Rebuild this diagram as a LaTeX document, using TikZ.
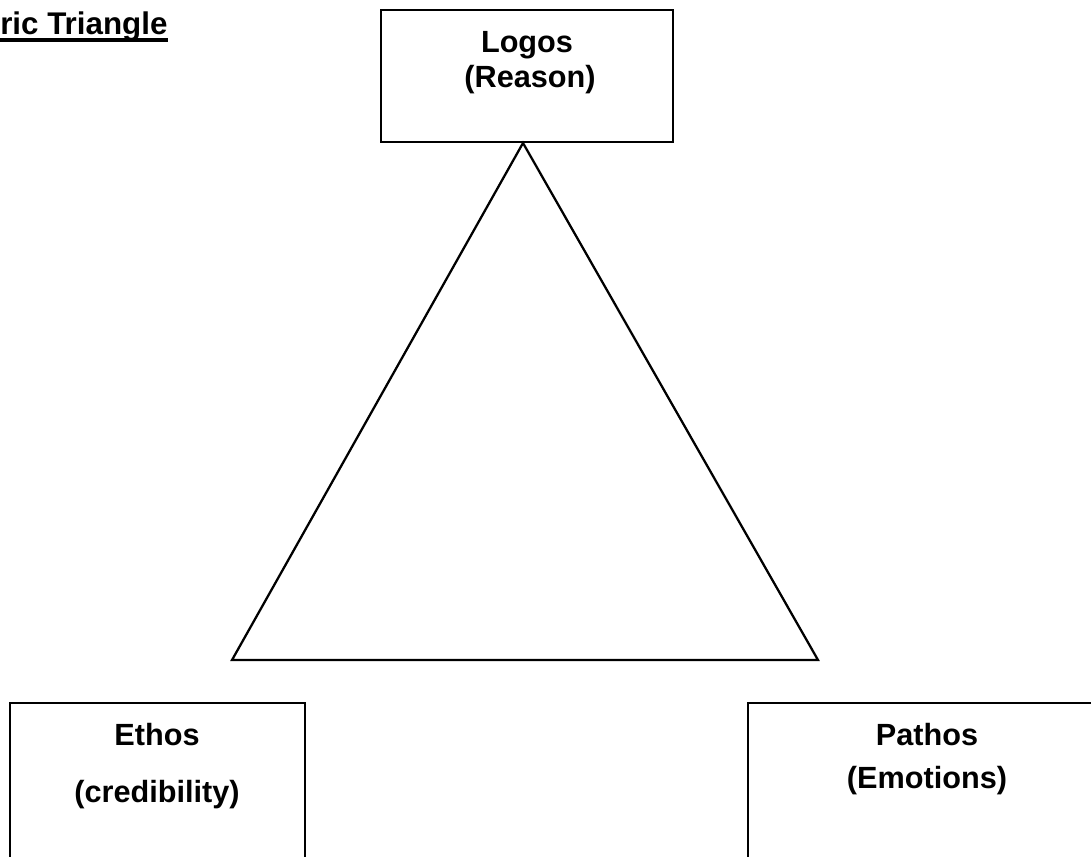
\documentclass[tikz,border=0pt]{standalone}
\usepackage{fontspec}
\setmainfont{Liberation Sans}
\usetikzlibrary{calc}

\tikzset{
  appeal/.style={draw,line width=2.1pt,inner sep=0pt},
  caption/.style={anchor=base,inner sep=0pt,font=\bfseries\fontsize{23}{27}\selectfont},
}

\begin{document}
\begin{tikzpicture}[x=0.75pt,y=-0.75pt]
\useasboundingbox (0,0) rectangle (1091,856);
\clip (0,0) rectangle (1091,856);

% Title (cut at the left edge)
\node[anchor=base west,inner sep=0pt,font=\bfseries\fontsize{23.5}{27}\selectfont] (title) at (0,35) {ric Triangle};
\draw[line width=3pt] ($(title.base west)+(0,5.5)$) -- ($(title.base east)+(0,5.5)$);

% Boxes
\node[appeal,minimum width=219pt,minimum height=99pt] (logos) at (527,76) {};
\node[appeal,minimum width=221.25pt,minimum height=132.75pt] (ethos) at (157.5,791.5) {};
\node[appeal,minimum width=271.5pt,minimum height=132.75pt] (pathos) at (929,791.5) {};

% Labels
\foreach \n/\x/\y/\t in {logosname/527/53/Logos, logosgloss/530/87/(Reason),
                         ethosname/157/745/Ethos, ethosgloss/157/802/(credibility),
                         pathosname/927/745/Pathos, pathosgloss/927/788/(Emotions)} {
  \node[caption] (\n) at (\x,\y) {\t};
}

% Triangle
\coordinate (apex) at (523,143);
\coordinate (left) at (232,660);
\coordinate (right) at (818,660);
\draw[line width=1.7pt] (apex) -- (left) -- (right) -- cycle;
\end{tikzpicture}
\end{document}
